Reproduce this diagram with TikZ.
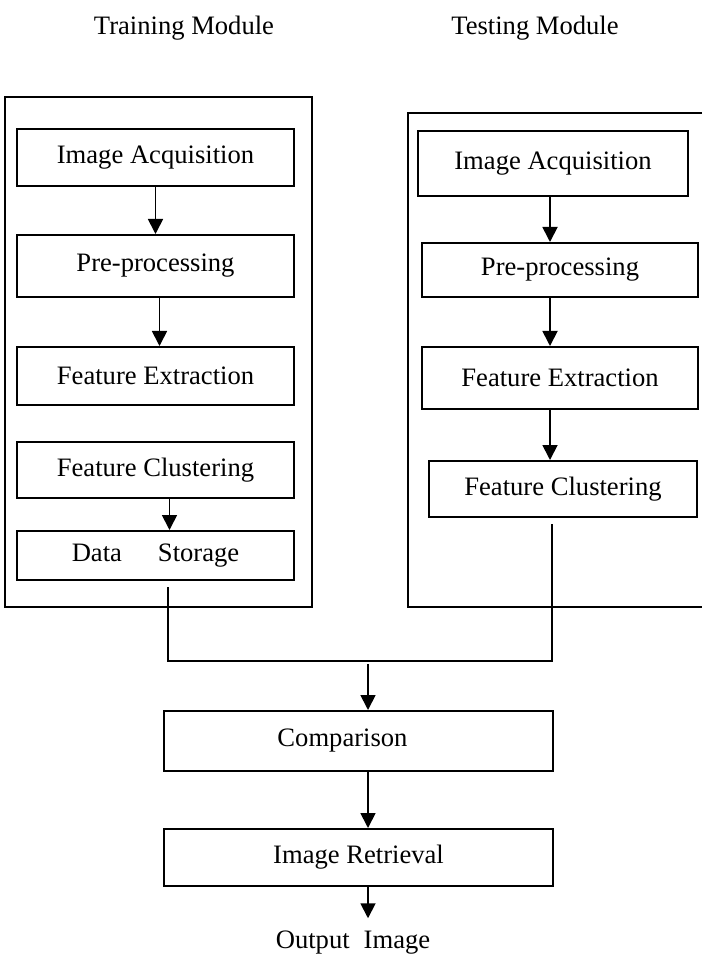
\documentclass[tikz,border=0pt]{standalone}
\usepackage{fontspec}
\setmainfont{Liberation Serif}
\usetikzlibrary{arrows.meta}

\begin{document}
\begin{tikzpicture}[>={Triangle[width=7.5pt,length=7.5pt]},x=0.5pt,y=-0.5pt,
  font=\fontsize{13.3}{16}\selectfont,
  stage/.style={draw,line width=1pt,inner sep=0pt},
  link/.style={line width=0.9pt}]
\useasboundingbox (0,0) rectangle (702,961);
% module titles
\node (trainhead) at (184,28) {Training Module};
\node (testhead) at (535,28) {Testing Module};
% module frames
\draw[line width=1pt] (5,97) rectangle (312,607);
\draw[line width=1pt] (702,113) -- (408,113) -- (408,607) -- (702,607);
% training module
\node[stage,minimum width=138.5pt,minimum height=28.5pt] (ia) at (155.5,157.5) {Image Acquisition};
\node[stage,minimum width=138.5pt,minimum height=31pt] (pp) at (155.5,266) {Pre-processing};
\node[stage,minimum width=138.5pt,minimum height=29pt] (fe) at (155.5,376) {Feature Extraction};
\node[stage,minimum width=138.5pt,minimum height=28pt] (fc) at (155.5,470) {Feature Clustering};
\node[stage,minimum width=138.5pt,minimum height=24.5pt] (ds) at (155.5,555.5) {Data\hspace{18pt}Storage};
\draw[->,link] (ia.south) -- (ia.south |- pp.north);
\draw[->,link] ([xshift=2pt]pp.south) -- ([xshift=2pt]pp.south |- fe.north);
\draw[->,link] ([xshift=7pt]fc.south) -- ([xshift=7pt]fc.south |- ds.north);
% testing module
\node[stage,minimum width=135pt,minimum height=32.5pt] (ia2) at (553,163.5) {Image Acquisition};
\node[stage,minimum width=138pt,minimum height=27pt] (pp2) at (560,270) {Pre-processing};
\node[stage,minimum width=138pt,minimum height=31pt] (fe2) at (560,378) {Feature Extraction};
\node[stage,minimum width=134pt,minimum height=28pt] (fc2) at (563,489) {Feature Clustering};
\draw[->,link] ([xshift=-1.5pt]ia2.south) -- ([xshift=-1.5pt]ia2.south |- pp2.north);
\draw[->,link] ([xshift=-5pt]pp2.south) -- ([xshift=-5pt]pp2.south |- fe2.north);
\draw[->,link] ([xshift=-5pt]fe2.south) -- ([xshift=-5pt]fe2.south |- fc2.north);
% merge
\coordinate (jl) at (168,661);
\coordinate (jr) at (552,661);
\coordinate (jc) at (368,661);
\draw[link] ([yshift=-3pt]jl |- ds.south) -- (jl) -- (jr) -- ([yshift=-3pt]jr |- fc2.south);
\node[stage,minimum width=194.5pt,minimum height=30pt] (cmp) at (358.5,741) {Comparison\hspace*{16pt}};
\node[stage,minimum width=194.5pt,minimum height=28.5pt] (ir) at (358.5,857.5) {Image Retrieval};
\node (out) at (353,943) {Output\hspace{7pt}Image};
\draw[->,link] ([yshift=-1.5pt]jc) -- (jc |- cmp.north);
\draw[->,link] (cmp.south -| jc) -- (ir.north -| jc);
\draw[->,link,shorten >=3pt] (ir.south -| jc) -- (out.north -| jc);
\end{tikzpicture}
\end{document}
